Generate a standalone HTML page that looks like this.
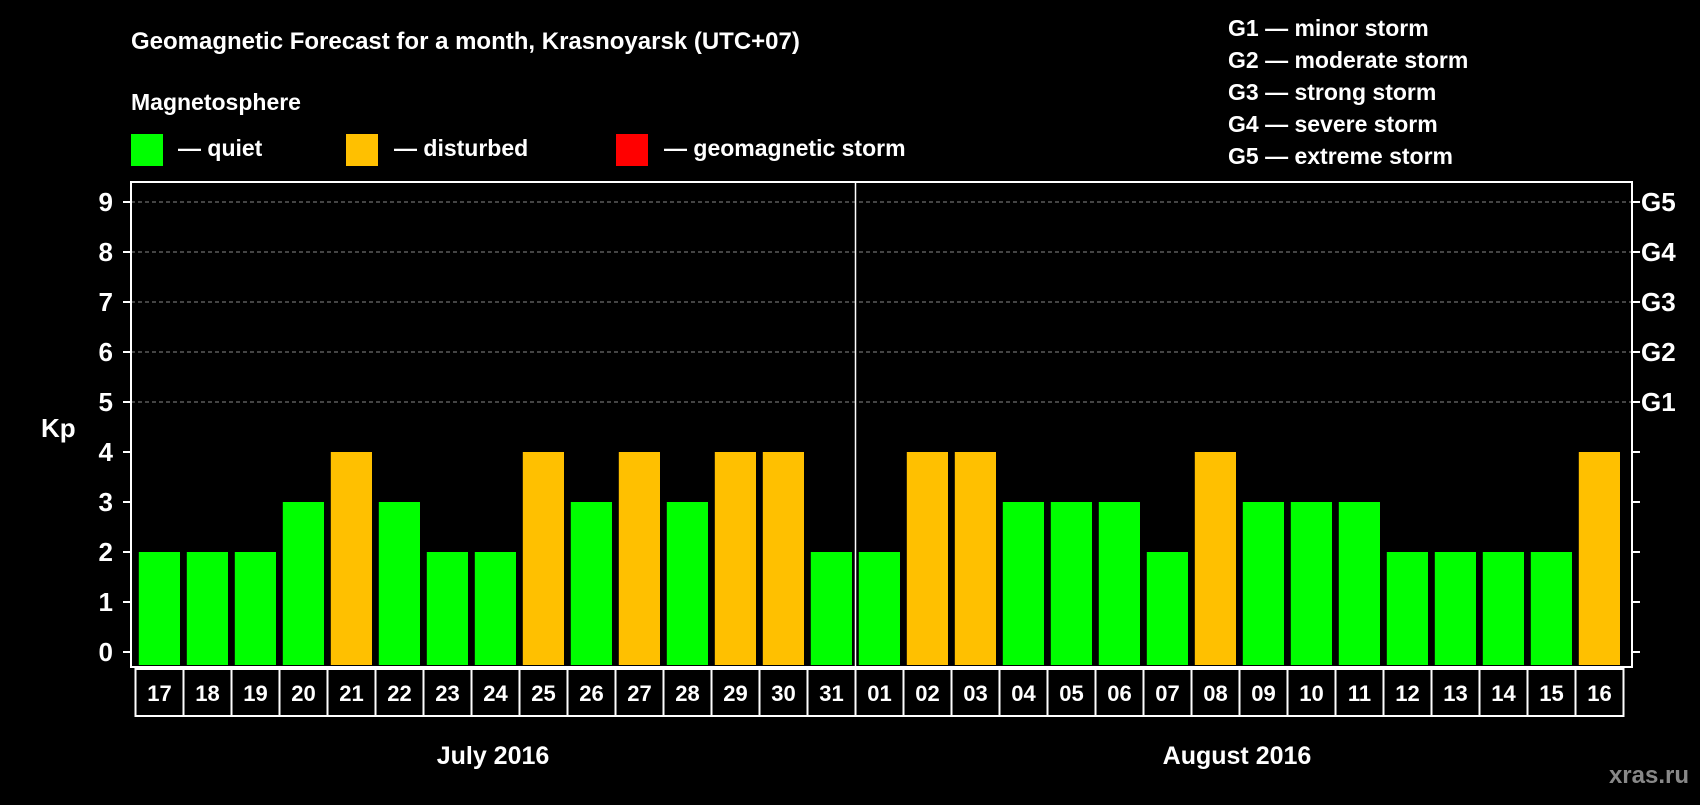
<!DOCTYPE html>
<html><head><meta charset="utf-8"><style>
body{margin:0;background:#000;width:1700px;height:800px;overflow:hidden}
svg text{font-family:"Liberation Sans",sans-serif;font-weight:bold;fill:#fff}
</style></head><body>
<svg id="chart" width="1700" height="800" xmlns="http://www.w3.org/2000/svg">
<text x="131" y="49" font-size="24">Geomagnetic Forecast for a month, Krasnoyarsk (UTC+07)</text>
<text x="131" y="110" font-size="23">Magnetosphere</text>
<rect x="131" y="134" width="32" height="32" fill="#00ff00"/>
<text x="178" y="156" font-size="23">— quiet</text>
<rect x="346" y="134" width="32" height="32" fill="#ffc000"/>
<text x="394" y="156" font-size="23">— disturbed</text>
<rect x="616" y="134" width="32" height="32" fill="#ff0000"/>
<text x="664" y="156" font-size="23">— geomagnetic storm</text>
<g font-size="23">
<text x="1228" y="36">G1 — minor storm</text>
<text x="1228" y="68">G2 — moderate storm</text>
<text x="1228" y="100">G3 — strong storm</text>
<text x="1228" y="132">G4 — severe storm</text>
<text x="1228" y="164">G5 — extreme storm</text>
</g>
<text x="41" y="437" font-size="26">Kp</text>
<text x="493" y="764" font-size="25" text-anchor="middle">July 2016</text>
<text x="1237" y="764" font-size="25" text-anchor="middle">August 2016</text>
<text x="1689" y="783" font-size="24" text-anchor="end" style="fill:#888">xras.ru</text>
<g id="plot"></g>
</svg>
<script>
const days=["17","18","19","20","21","22","23","24","25","26","27","28","29","30","31","01","02","03","04","05","06","07","08","09","10","11","12","13","14","15","16"];
const kp=[2,2,2,3,4,3,2,2,4,3,4,3,4,4,2,2,4,4,3,3,3,2,4,3,3,3,2,2,2,2,4];
const yTicks=[0,1,2,3,4,5,6,7,8,9];
const gLabels=["G1","G2","G3","G4","G5"];
const gLevels=[5,6,7,8,9];
const NS="http://www.w3.org/2000/svg";
const g=document.getElementById('plot');
const L=131,R=1632,T=182,B=667,slot=48,x0=135.5,bw=41.2;
const y=v=>652-50*v;
const xs=i=>x0+slot*i;
function mk(t,a){const e=document.createElementNS(NS,t);for(const k in a)e.setAttribute(k,a[k]);g.appendChild(e);return e;}
yTicks.forEach(v=>{
 if(v>=5){const l=mk('line',{x1:L,x2:R,y1:y(v),y2:y(v),stroke:'#888','stroke-dasharray':'4 3','stroke-width':1});
 
 }
 const t1=mk('line',{x1:L-8,x2:L,y1:y(v),y2:y(v),stroke:'#fff','stroke-width':2});
 
 
 const t2=mk('line',{x1:R,x2:R+8,y1:y(v),y2:y(v),stroke:'#fff','stroke-width':2});
 
 
 const tx=mk('text',{x:113,y:y(v)+9,'font-size':26,'text-anchor':'end'});tx.textContent=v;
 
 
});
gLabels.forEach((s,i)=>{const tx=mk('text',{x:1641,y:y(gLevels[i])+9,'font-size':26});tx.textContent=s;
 
 });
kp.forEach((v,i)=>{
 const r=mk('rect',{x:xs(i)+3.3,y:y(v),width:bw,height:B-2-y(v),fill:v>=5?'#ff0000':v>=4?'#ffc000':'#00ff00'});
 
 
 const tx=mk('text',{x:xs(i)+slot/2,y:701,'font-size':22,'text-anchor':'middle'});tx.textContent=days[i];
 
 
});
const fr=mk('rect',{x:L,y:T,width:R-L,height:B-T,fill:'none',stroke:'#fff','stroke-width':2});


const dv=mk('line',{x1:xs(15),x2:xs(15),y1:T,y2:B,stroke:'#fff','stroke-width':1.5});


const bx=mk('rect',{x:x0,y:669,width:slot*days.length,height:47,fill:'none',stroke:'#fff','stroke-width':2});


for(let i=1;i<days.length;i++){const l=mk('line',{x1:xs(i),x2:xs(i),y1:669,y2:716,stroke:'#fff','stroke-width':2});
 
 }
</script>
</body></html>
